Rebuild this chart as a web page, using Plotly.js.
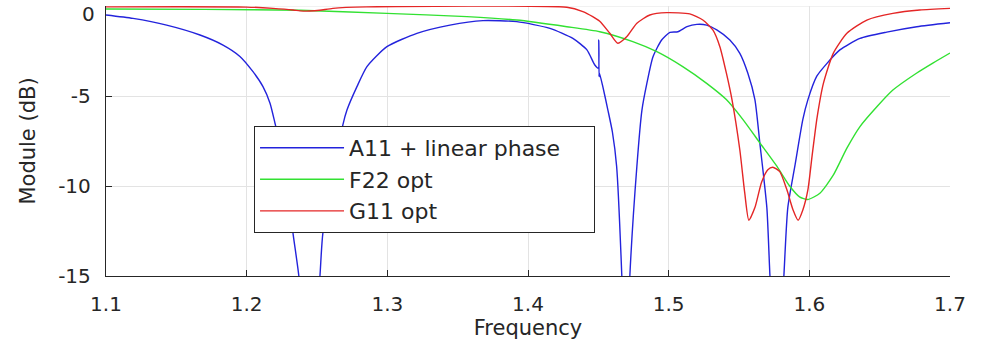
<!DOCTYPE html>
<html>
<head>
<meta charset="utf-8">
<script src="https://cdn.plot.ly/plotly-3.0.1.min.js"></script>
<style>html,body{margin:0;padding:0;background:#fff;}#chart{width:995px;height:354px;}</style>
</head>
<body>
<div id="chart"></div>
<script>
// ---- data ----
const seriesNames = ["A11 + linear phase", "F22 opt", "G11 opt"];

const a11Freq = [1.10, 1.1192, 1.1431, 1.1668, 1.1832, 1.1952, 1.2045, 1.2116, 1.2166, 1.2201, 1.226, 1.230, 1.2329, 1.2371, 1.245, 1.2521, 1.2542, 1.2684, 1.2713, 1.2784, 1.2855, 1.2997, 1.321, 1.3445, 1.368, 1.392, 1.4156, 1.4319, 1.4419, 1.4475, 1.4500, 1.4503, 1.4505, 1.4507, 1.4532, 1.4568, 1.4600, 1.463, 1.4667, 1.4695, 1.4724, 1.4774, 1.481, 1.4845, 1.4888, 1.495, 1.5009, 1.5065, 1.513, 1.52, 1.527, 1.5342, 1.5435, 1.5506, 1.5563, 1.5613, 1.5648, 1.5698, 1.572, 1.577, 1.5819, 1.5847, 1.5897, 1.5954, 1.599, 1.6053, 1.6124, 1.6217, 1.636, 1.655, 1.6764, 1.70];
const a11Db   = [-0.5, -0.69, -1.06, -1.61, -2.17, -2.8, -3.65, -4.48, -5.4, -6.5, -8.5, -10.6, -12.6, -15, -22, -15, -12.6, -6.6, -5.78, -4.48, -3.37, -2.26, -1.52, -1.06, -0.81, -0.87, -1.24, -1.8, -2.44, -3.28, -3.45, -1.89, -3.93, -3.7, -4.48, -5.78, -7.0, -8.9, -15, -22, -15, -8.9, -5.78, -4.3, -2.83, -1.89, -1.46, -1.43, -1.15, -1.02, -1.06, -1.33, -1.89, -2.63, -3.74, -5.2, -7.6, -11.2, -15, -22, -15, -11.2, -8.9, -6.3, -5.2, -3.9, -3.2, -2.44, -1.8, -1.45, -1.15, -0.93];

const f22Freq = [1.10, 1.17, 1.2379, 1.2997, 1.3566, 1.392, 1.4276, 1.451, 1.4745, 1.4916, 1.51, 1.527, 1.541, 1.5527, 1.5648, 1.5769, 1.586, 1.593, 1.599, 1.6075, 1.617, 1.6267, 1.636, 1.648, 1.6594, 1.6764, 1.6878, 1.70];
const f22Db   = [-0.17, -0.19, -0.24, -0.41, -0.59, -0.78, -1.15, -1.43, -1.98, -2.54, -3.37, -4.3, -5.2, -6.3, -7.6, -8.9, -10.0, -10.6, -10.75, -10.4, -9.4, -7.9, -6.7, -5.6, -4.67, -3.72, -3.17, -2.61];

const g11Freq = [1.10, 1.20, 1.2187, 1.233, 1.2379, 1.245, 1.252, 1.2613, 1.285, 1.4276, 1.439, 1.446, 1.451, 1.458, 1.4639, 1.4703, 1.4774, 1.4866, 1.4987, 1.515, 1.5243, 1.5314, 1.5364, 1.541, 1.545, 1.5506, 1.5541, 1.557, 1.5613, 1.566, 1.5705, 1.574, 1.579, 1.584, 1.5883, 1.592, 1.5955, 1.599, 1.602, 1.6055, 1.61, 1.617, 1.6267, 1.6409, 1.6594, 1.6785, 1.70];
const g11Db   = [-0.05, -0.06, -0.13, -0.22, -0.27, -0.28, -0.24, -0.13, -0.05, -0.07, -0.31, -0.59, -0.85, -1.5, -2.07, -1.7, -0.96, -0.5, -0.37, -0.44, -0.78, -1.33, -2.26, -3.72, -5.2, -8.0, -10.4, -11.9, -11.2, -9.8, -9.1, -8.96, -9.2, -10.2, -11.3, -11.9, -11.3, -10.2, -8.3, -6.2, -4.3, -2.63, -1.52, -0.78, -0.41, -0.22, -0.13];

const xTicks = [1.1, 1.2, 1.3, 1.4, 1.5, 1.6, 1.7];
const xTickText = ["1.1", "1.2", "1.3", "1.4", "1.5", "1.6", "1.7"];
const yTicks = [-15, -10, -5, 0];
const yTickText = ["-15", "-10", "-5", "0"];

// ---- chart ----
const colors = ["rgb(35,35,220)", "rgb(50,225,50)", "rgb(228,38,38)"];
const xs = [a11Freq, f22Freq, g11Freq];
const ys = [a11Db, f22Db, g11Db];
const pad = "\u00a0\u00a0\u00a0\u00a0";
const traces = seriesNames.map((n, i) => ({
  x: xs[i], y: ys[i], name: i === 0 ? n + pad : n, type: "scatter", mode: "lines",
  line: {color: colors[i], width: 1.4, shape: "spline", smoothing: 0.6}
}));

const fontFam = "DejaVu Sans, sans-serif";
const axColor = "#262626";
const layout = {
  width: 995, height: 354,
  margin: {l: 106, r: 45, t: 6, b: 78},
  paper_bgcolor: "#fff", plot_bgcolor: "#fff",
  font: {family: fontFam, color: axColor, size: 20},
  showlegend: true,
  legend: {
    x: 0.1754, y: 0.556, xanchor: "left", yanchor: "top",
    bgcolor: "#fff", bordercolor: axColor, borderwidth: 1,
    font: {family: fontFam, size: 22, color: axColor},
    itemwidth: 84, tracegroupgap: 0
  },
  annotations: [{
    xref: "paper", yref: "y", x: 0, y: yTicks[3], text: yTickText[3],
    showarrow: false, xanchor: "right", yanchor: "top", xshift: -10, yshift: 5,
    borderpad: 0,
    font: {family: fontFam, size: 20, color: axColor}
  }],
  xaxis: {
    range: [1.1, 1.7], tickvals: xTicks, ticktext: xTickText,
    showgrid: true, gridcolor: "#e3e3e3", gridwidth: 1,
    showline: true, linecolor: axColor, linewidth: 1.2,
    ticks: "inside", ticklen: 6, tickcolor: axColor,
    zeroline: false, ticklabelstandoff: 10,
    tickfont: {size: 20, color: axColor},
    title: {text: "Frequency", font: {size: 21, color: axColor}, standoff: 0}
  },
  yaxis: {
    range: [-15, 0], tickvals: yTicks.slice(0, 3), ticktext: yTickText.slice(0, 3),
    showgrid: true, gridcolor: "#e3e3e3", gridwidth: 1,
    showline: true, linecolor: axColor, linewidth: 1.2,
    ticks: "inside", ticklen: 6, tickcolor: axColor,
    zeroline: false, ticklabelstandoff: 10,
    tickfont: {size: 20, color: axColor},
    title: {text: "Module (dB)", font: {size: 21, color: axColor}, standoff: 16}
  },
  shapes: [{
    type: "line", xref: "paper", yref: "y", x0: 0, x1: 1, y0: 0, y1: 0,
    line: {color: "#e3e3e3", width: 1}, layer: "below"
  }]
};
Plotly.newPlot("chart", traces, layout, {displayModeBar: false, staticPlot: true});
</script>
</body>
</html>
